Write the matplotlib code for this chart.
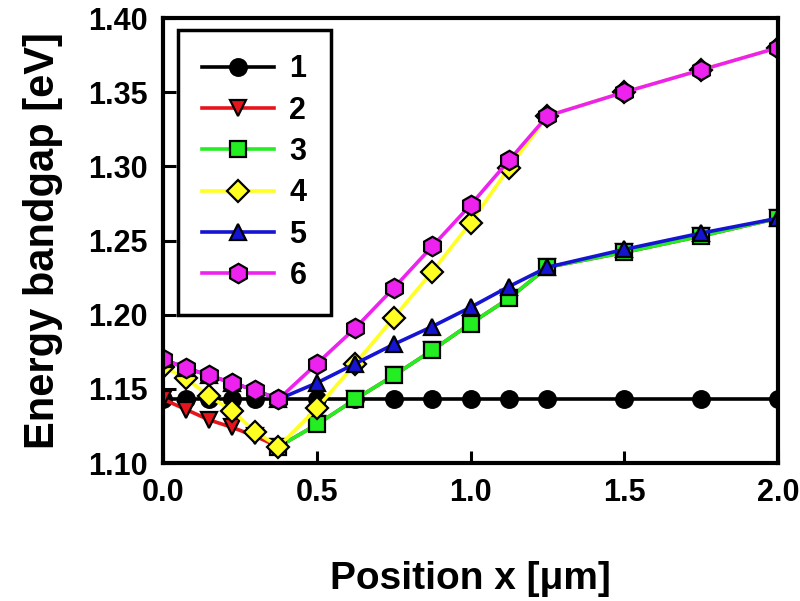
import numpy as np
import matplotlib.pyplot as plt

plt.rcParams['font.family'] = ['Liberation Sans', 'DejaVu Sans']
plt.rcParams['font.weight'] = 'bold'

x_all = [0.0, 0.075, 0.15, 0.225, 0.3, 0.375, 0.5, 0.625, 0.75, 0.875,
         1.0, 1.125, 1.25, 1.5, 1.75, 2.0]
x_tail = x_all[5:]

gap1 = [1.143] * len(x_all)
gap2 = [1.143, 1.136, 1.129, 1.124, 1.118, 1.111, 1.126, 1.143, 1.159, 1.176,
        1.194, 1.211, 1.232, 1.242, 1.253, 1.265]
gap3 = [1.111, 1.126, 1.143, 1.159, 1.176, 1.194, 1.211, 1.232, 1.242, 1.253, 1.265]
gap4 = [1.165, 1.157, 1.145, 1.135, 1.121, 1.111, 1.137, 1.167, 1.198, 1.229,
        1.262, 1.299, 1.334, 1.350, 1.365, 1.380]
gap5 = [1.170, 1.164, 1.159, 1.154, 1.149, 1.143, 1.154, 1.167, 1.180, 1.192,
        1.205, 1.219, 1.232, 1.244, 1.255, 1.265]
gap6 = [1.170, 1.164, 1.159, 1.154, 1.149, 1.143, 1.167, 1.191, 1.218, 1.246,
        1.274, 1.304, 1.334, 1.350, 1.365, 1.380]

# name, x, y, colour, marker, marker size
series = [
    ('1', x_all, gap1, 'black', 'o', 12),
    ('2', x_all, gap2, '#e8141c', 'v', 12),
    ('3', x_tail, gap3, '#22ee22', 's', 11),
    ('4', x_all, gap4, '#ffff22', 'D', 11),
    ('5', x_all, gap5, '#1414d2', '^', 12),
    ('6', x_all, gap6, '#ee22ee', 'h', 14),
]

fig = plt.figure(figsize=(8, 6.01), dpi=100)
ax = fig.add_axes([0.204, 0.2296, 0.7685, 0.7404])

for name, xs, ys, col, mk, ms in series:
    ax.plot(xs, ys, color=col, lw=2.6, marker=mk, ms=ms, mfc=col,
            mec='black', mew=1.6, label=name)

ax.set_xlim(0, 2.0)
ax.set_ylim(1.10, 1.40)
ax.set_xticks([0.0, 0.5, 1.0, 1.5, 2.0])
ax.set_yticks(np.arange(1.10, 1.401, 0.05))
ax.xaxis.set_major_formatter(plt.FormatStrFormatter('%.1f'))
ax.yaxis.set_major_formatter(plt.FormatStrFormatter('%.2f'))
ax.tick_params(direction='in', length=9, width=2.2, labelsize=22, pad=11)
for sp in ax.spines.values():
    sp.set_linewidth(3)

ax.set_xlabel('Position x [\u03bcm]', fontsize=28, fontweight='bold', labelpad=38)
ax.set_ylabel('Energy bandgap [eV]', fontsize=30, fontweight='bold', labelpad=18)

leg = ax.legend(loc='upper left', bbox_to_anchor=(0.024, 0.973), borderaxespad=0,
                fontsize=22, handlelength=2.35, handletextpad=0.5,
                labelspacing=0.37, borderpad=0.8,
                fancybox=False, framealpha=1, edgecolor='black')
leg.get_frame().set_linewidth(2.5)

fig.savefig('out.png', dpi=100)
